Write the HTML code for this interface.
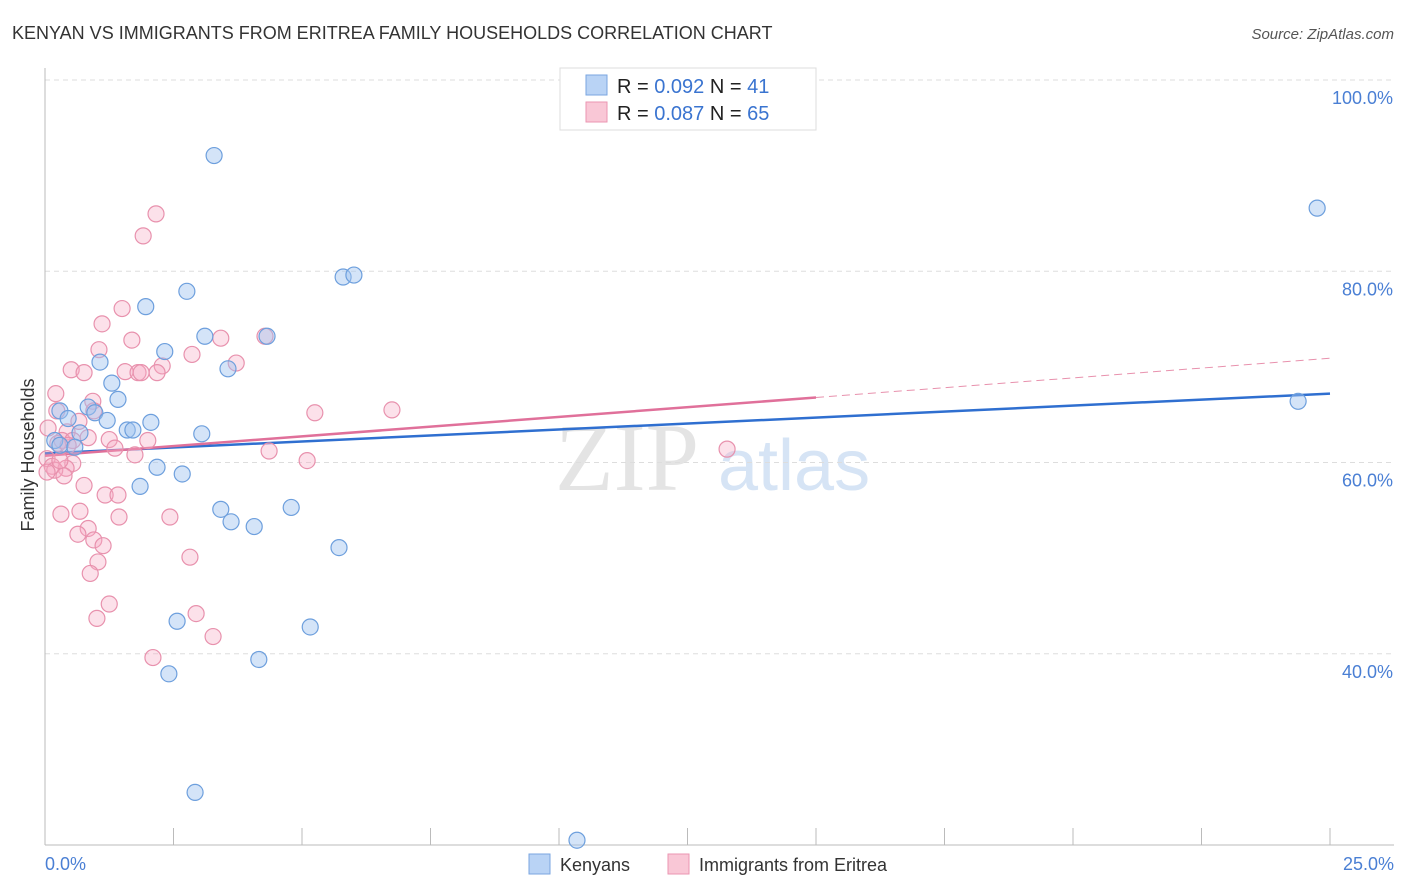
<!DOCTYPE html>
<html><head><meta charset="utf-8"><style>
body{margin:0;background:#fff;font-family:"Liberation Sans",sans-serif;}
svg{display:block}
</style></head><body>
<svg id="chart" width="1406" height="892" xmlns="http://www.w3.org/2000/svg">
<text x="12" y="39" font-size="18" fill="#333">KENYAN VS IMMIGRANTS FROM ERITREA FAMILY HOUSEHOLDS CORRELATION CHART</text>
<text x="1394" y="39" font-size="15" fill="#555" text-anchor="end" font-style="italic">Source: ZipAtlas.com</text>
<g>
<text x="555" y="490" font-size="96" fill="#e4e4e4" font-family="Liberation Serif,serif">ZIP</text>
<text x="718" y="490" font-size="72" fill="#d6e4f5">atlas</text>
</g>
<g id="grid"></g>
<g id="axes"></g>
<g id="lines"></g>
<g id="points"></g>
<text transform="translate(34,455) rotate(-90)" font-size="18" fill="#333" text-anchor="middle">Family Households</text>
<text x="45" y="870" font-size="18" fill="#4a7fd4">0.0%</text>
<text x="1394" y="870" font-size="18" fill="#4a7fd4" text-anchor="end">25.0%</text>
<g>
<rect x="560" y="68" width="256" height="62" fill="#fff" stroke="#ddd"/>
<rect x="586" y="75" width="21" height="20" fill="#b9d3f5" stroke="#7aa6e0"/>
<text x="617" y="93" font-size="20" fill="#222">R = <tspan fill="#3a74d0">0.092</tspan>   N = <tspan fill="#3a74d0"> 41</tspan></text>
<rect x="586" y="102" width="21" height="20" fill="#f9c7d6" stroke="#eb96b2"/>
<text x="617" y="120" font-size="20" fill="#222">R = <tspan fill="#3a74d0">0.087</tspan>   N = <tspan fill="#3a74d0">65</tspan></text>
</g>
<g>
<rect x="529" y="854" width="21" height="20" fill="#b9d3f5" stroke="#7aa6e0"/>
<text x="560" y="871" font-size="18" fill="#333">Kenyans</text>
<rect x="668" y="854" width="21" height="20" fill="#f9c7d6" stroke="#eb96b2"/>
<text x="699" y="871" font-size="18" fill="#333">Immigrants from Eritrea</text>
</g>
</svg>
<script>
const yTicks=[40,60,80,100];
const yTickLabels=["40.0%","60.0%","80.0%","100.0%"];
const xTicks=[0,2.5,5,7.5,10,12.5,15,17.5,20,22.5,25];
const kenyanX=[3.29,24.75,2.76,1.96,5.80,6.01,3.11,4.32,2.33,3.56,1.07,1.30,1.42,0.29,0.45,0.84,0.97,1.21,2.06,1.60,1.71,3.05,0.68,0.19,0.29,0.58,2.18,2.67,1.85,3.42,3.62,4.07,4.79,5.72,2.57,5.16,2.41,4.16,2.92,10.35,24.38];
const kenyanY=[92.1,86.6,77.9,76.3,79.4,79.6,73.2,73.2,71.6,69.8,70.5,68.3,66.6,65.4,64.6,65.8,65.2,64.4,64.2,63.4,63.4,63.0,63.1,62.3,61.8,61.6,59.5,58.8,57.5,55.1,53.8,53.3,55.3,51.1,43.4,42.8,37.9,39.4,25.5,20.5,66.4];
const eritreaX=[2.16,1.91,1.50,1.11,4.28,3.42,1.69,1.05,2.86,2.28,3.72,0.51,0.76,1.56,1.81,1.87,2.18,0.21,0.93,0.95,6.75,5.25,0.23,0.66,0.06,0.43,0.84,0.33,0.54,1.25,2.00,1.36,0.25,4.36,1.75,5.10,13.27,0.04,0.54,0.14,0.41,0.19,0.04,0.37,0.76,1.17,1.42,0.68,0.31,1.44,2.43,0.84,0.64,0.95,1.13,2.82,1.03,0.88,1.25,1.01,2.94,3.27,2.10,0.29,0.45];
const eritreaY=[86.0,83.7,76.1,74.5,73.2,73.0,72.8,71.8,71.3,70.1,70.4,69.7,69.4,69.5,69.4,69.4,69.4,67.2,66.4,65.4,65.5,65.2,65.4,64.3,63.6,63.2,62.6,62.3,62.3,62.4,62.3,61.5,62.0,61.2,60.8,60.2,61.4,60.4,59.9,59.6,59.4,59.2,59.0,58.6,57.6,56.6,56.6,54.9,54.6,54.3,54.3,53.1,52.5,51.9,51.3,50.1,49.6,48.4,45.2,43.7,44.2,41.8,39.6,60.2,61.8];
const kenyanTrend=[60.95,67.2];
const eritreaTrend=[60.7,66.8,70.9];
const NS="http://www.w3.org/2000/svg";
const X0=45,X1=1330,Y0=845,Y1=80;
function sx(v){return X0+(v/25)*(X1-X0);}
function sy(v){return Y0-(v-20)/80*(Y0-Y1);}
function mk(tag,attrs,parent){const e=document.createElementNS(NS,tag);for(const k in attrs)e.setAttribute(k,attrs[k]);parent.appendChild(e);return e;}
const grid=document.getElementById('grid'),axes=document.getElementById('axes'),lines=document.getElementById('lines'),pts=document.getElementById('points');
yTicks.forEach((t,i)=>{
 const l=mk('line',{x1:X0,x2:1394,y1:sy(t),y2:sy(t),stroke:'#ddd','stroke-dasharray':'5,4'},grid);
 
 
 const tx=mk('text',{x:1393,y:sy(t)+24,'font-size':18,fill:'#4a7fd4','text-anchor':'end'},axes);
 tx.textContent=yTickLabels[i];
 
 
});
const ya=mk('line',{x1:X0,x2:X0,y1:68,y2:Y0,stroke:'#bbb'},axes);


const xa=mk('line',{x1:X0,x2:1394,y1:Y0,y2:Y0,stroke:'#bbb'},axes);


xTicks.forEach(t=>{
 const l=mk('line',{x1:sx(t),x2:sx(t),y1:828,y2:Y0,stroke:'#bbb'},axes);
 
 
});
let l1=mk('line',{x1:sx(0),y1:sy(kenyanTrend[0]),x2:sx(25),y2:sy(kenyanTrend[1]),stroke:'#2f6fd0','stroke-width':2.5},lines);


let l2=mk('line',{x1:sx(0),y1:sy(eritreaTrend[0]),x2:sx(15),y2:sy(eritreaTrend[1]),stroke:'#e0709a','stroke-width':2.5},lines);


let l3=mk('line',{x1:sx(15),y1:sy(eritreaTrend[1]),x2:sx(25),y2:sy(eritreaTrend[2]),stroke:'#e891ad','stroke-width':1,'stroke-dasharray':'8,5'},lines);


eritreaX.forEach((x,i)=>{
 const c=mk('circle',{cx:sx(x),cy:sy(eritreaY[i]),r:8,fill:'rgba(245,170,195,0.35)',stroke:'#e891ad','stroke-width':1.2},pts);
 
 
});
kenyanX.forEach((x,i)=>{
 const c=mk('circle',{cx:sx(x),cy:sy(kenyanY[i]),r:8,fill:'rgba(160,195,240,0.45)',stroke:'#6d9fdd','stroke-width':1.2},pts);
 
 
});
</script>
</body></html>
